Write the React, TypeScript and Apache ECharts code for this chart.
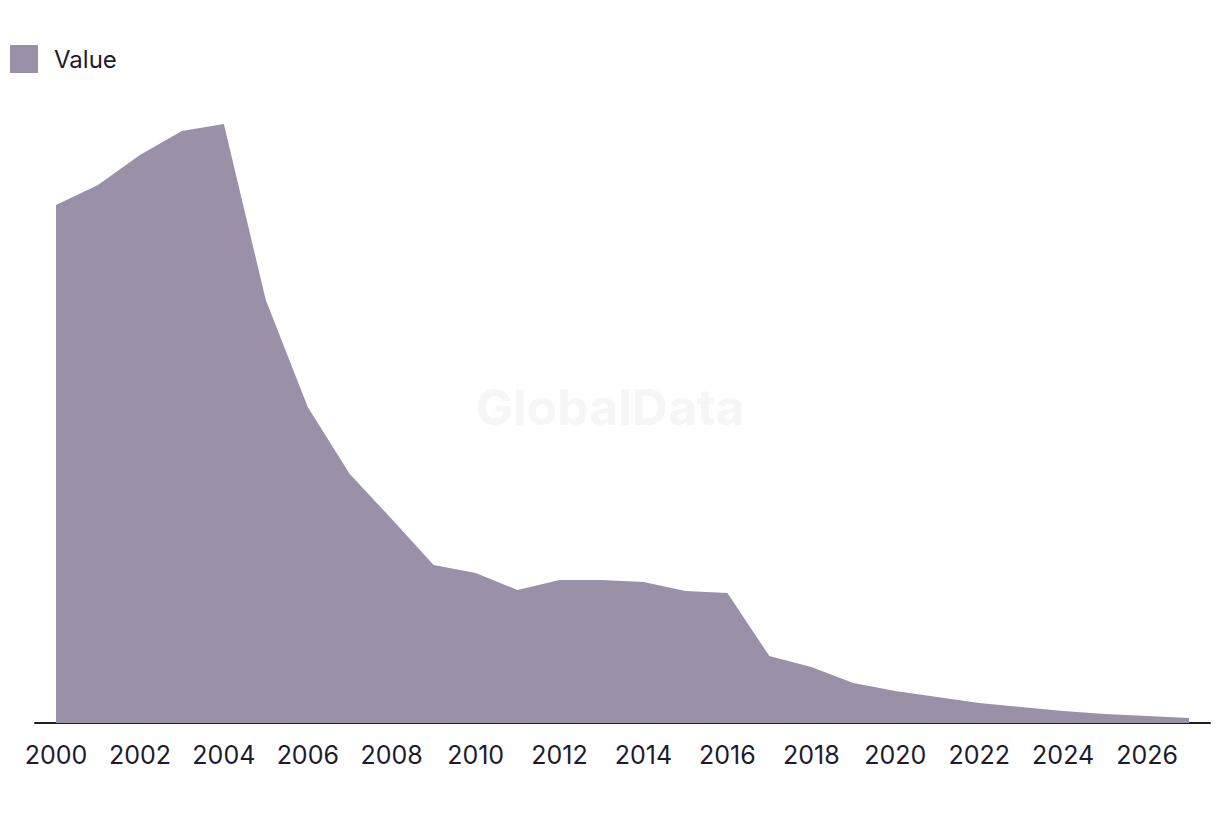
import React, { useEffect, useRef } from "react";
import * as echarts from "echarts";

const years: string[] = [
  "2000", "2001", "2002", "2003", "2004", "2005", "2006", "2007", "2008", "2009",
  "2010", "2011", "2012", "2013", "2014", "2015", "2016", "2017", "2018", "2019",
  "2020", "2021", "2022", "2023", "2024", "2025", "2026", "2027",
];

const values: number[] = [
  518, 538, 568, 592, 599, 423, 316, 249, 204, 158,
  150, 133, 143, 143, 141, 132, 130, 67, 56, 40,
  32, 26, 20, 16, 12, 9, 7, 5,
];

const seriesName = "Value";

export default function App() {
  const ref = useRef<HTMLDivElement>(null);
  useEffect(() => {
    if (!ref.current) return;
    const chart = echarts.init(ref.current, undefined, { renderer: "svg" });
    const textColor = "#1e1b2e";
    const fill = "#9a90a8";
    chart.setOption({
      animation: false,
      backgroundColor: "#ffffff",
      textStyle: { fontFamily: "Inter, 'Noto Sans', sans-serif" },
      graphic: [
        {
          type: "text",
          left: "center",
          top: 382,
          z: -1,
          silent: true,
          style: {
            text: "GlobalData",
            fontSize: 50,
            fontWeight: "bold",
            fontFamily: "Inter, 'Noto Sans', sans-serif",
            fill: "#f6f6f6",
          },
        },
      ],
      legend: {
        left: 5,
        top: 40,
        itemWidth: 28,
        itemHeight: 28,
        icon: "rect",
        textStyle: {
          color: textColor,
          fontSize: 24,
          padding: [0, 0, 3, 11],
        },
        data: [seriesName],
      },
      grid: {
        left: 35,
        right: 10,
        top: 100,
        bottom: 93,
        containLabel: false,
      },
      xAxis: {
        type: "category",
        data: years,
        boundaryGap: true,
        axisLine: { show: true, lineStyle: { color: textColor, width: 2 } },
        axisTick: { show: false },
        axisLabel: {
          interval: 1,
          color: textColor,
          fontSize: 25,
          margin: 19,
        },
        splitLine: { show: false },
      },
      yAxis: {
        type: "value",
        min: 0,
        max: 623,
        show: false,
        splitLine: { show: false },
      },
      series: [
        {
          name: seriesName,
          type: "line",
          data: values,
          symbol: "none",
          lineStyle: { width: 0, color: fill },
          itemStyle: { color: fill },
          areaStyle: { color: fill, opacity: 1 },
        },
      ],
    });
    return () => chart.dispose();
  }, []);
  return (
    <div
      ref={ref}
      style={{ position: "fixed", left: 0, top: 0, width: 1220, height: 816 }}
    />
  );
}
